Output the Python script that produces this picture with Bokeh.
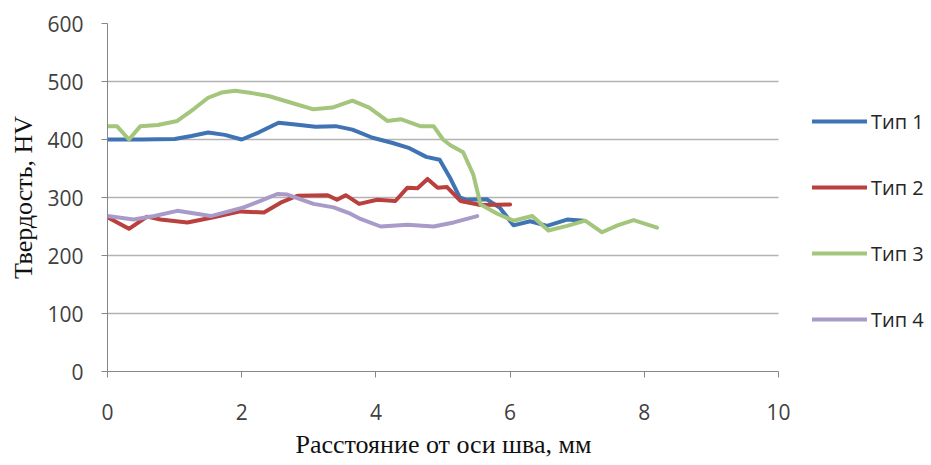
from bokeh.plotting import figure
from bokeh.models import Legend, LegendItem, FixedTicker, Title
from bokeh.embed import file_html
from bokeh.resources import INLINE

# ---- data ----
x1 = [0, 0.5, 1.0, 1.25, 1.5, 1.75, 2.0, 2.25, 2.55, 2.8, 3.1, 3.4, 3.65, 3.95, 4.25, 4.5, 4.75, 4.95, 5.1, 5.25, 5.35, 5.65, 5.85, 6.05, 6.3, 6.55, 6.85, 7.1]
y1 = [400, 400, 401, 406, 412, 408, 400, 412, 429, 426, 422, 423, 417, 403, 394, 385, 370, 365, 335, 300, 296, 297, 282, 252, 259, 251, 262, 260]

x2 = [0, 0.32, 0.59, 0.79, 1.19, 1.58, 1.98, 2.33, 2.58, 2.83, 3.28, 3.42, 3.55, 3.75, 4.02, 4.29, 4.47, 4.62, 4.77, 4.92, 5.06, 5.26, 5.56, 6.0]
y2 = [266, 246, 267, 262, 257, 266, 276, 274, 291, 303, 304, 296, 304, 289, 296, 294, 317, 316, 332, 317, 318, 294, 287, 288]

x3 = [0, 0.14, 0.32, 0.49, 0.75, 1.04, 1.29, 1.5, 1.7, 1.9, 2.15, 2.4, 2.75, 3.07, 3.35, 3.65, 3.9, 4.17, 4.37, 4.66, 4.86, 5.0, 5.11, 5.3, 5.45, 5.56, 5.81, 6.05, 6.33, 6.57, 6.85, 7.12, 7.37, 7.6, 7.84, 8.19]
y3 = [423, 423, 400, 423, 425, 432, 453, 472, 481, 484, 480, 475, 463, 452, 455, 467, 455, 432, 435, 423, 423, 400, 390, 378, 340, 288, 272, 260, 268, 243, 251, 260, 240, 252, 261, 248]

x4 = [0, 0.39, 0.7, 1.04, 1.54, 2.03, 2.3, 2.53, 2.68, 3.07, 3.37, 3.62, 3.77, 4.07, 4.47, 4.86, 5.16, 5.51]
y4 = [268, 262, 268, 277, 268, 283, 295, 306, 305, 289, 283, 272, 263, 250, 253, 250, 257, 268]

names = ["Тип 1", "Тип 2", "Тип 3", "Тип 4"]
colors = ["#3F73B3", "#B9403C", "#A4C57C", "#A89BC9"]
x_ticks = [0, 2, 4, 6, 8, 10]
y_ticks = [0, 100, 200, 300, 400, 500, 600]
x_min, x_max = 0, 10
x_title = "Расстояние от оси шва, мм"
y_title = "Твердость, HV"

# the frame extends to the right of x=10 so that the legend can sit inside it;
# axis line and grid lines are bounded to [0, 10]
p = figure(width=931, height=465, x_range=(0, 12.28), y_range=(0, 600),
           output_backend="svg", toolbar_location=None,
           min_border_left=107, min_border_right=0, min_border_top=23, min_border_bottom=94)
p.outline_line_color = None
p.background_fill_color = "white"

renderers = []
for xs, ys, c in zip([x1, x2, x3, x4], [y1, y2, y3, y4], colors):
    r = p.line(xs, ys, line_color=c, line_width=4, line_join="round", line_cap="round")
    renderers.append(r)

# axes
p.xaxis.ticker = FixedTicker(ticks=x_ticks)
p.yaxis.ticker = FixedTicker(ticks=y_ticks)
p.xaxis.bounds = (x_min, x_max)
for ax in (p.xaxis, p.yaxis):
    ax.axis_line_color = "#868686"
    ax.major_tick_line_color = "#868686"
    ax.major_tick_in = 0
    ax.major_tick_out = 6
    ax.minor_tick_line_color = None
    ax.major_label_text_font = "Open Sans"
    ax.major_label_text_font_size = "21px"
    ax.major_label_text_color = "#404040"
    ax.axis_label_text_font = "Liberation Serif"
    ax.axis_label_text_font_size = "26px"
    ax.axis_label_text_font_style = "normal"
    ax.axis_label_text_color = "#111111"

p.yaxis.axis_label = y_title
p.xaxis.major_label_standoff = 26
p.yaxis.major_label_standoff = 18
p.yaxis.axis_label_standoff = 6

# x-axis title centred under the [0, 10] part of the axis
xt = Title(text=x_title, align="left", offset=188, standoff=11,
           text_font="Liberation Serif", text_font_size="26px",
           text_font_style="normal", text_color="#111111")
p.add_layout(xt, "below")

p.xgrid.grid_line_color = None
p.ygrid.grid_line_color = "#B3B3B3"
p.ygrid.grid_line_width = 1.5
p.ygrid.cross_bounds = (x_min, x_max)

legend = Legend(items=[LegendItem(label=n, renderers=[r]) for n, r in zip(names, renderers)],
                location=(705, 37))
legend.glyph_width = 55
legend.glyph_height = 30
legend.label_height = 30
legend.spacing = 36
legend.padding = 0
legend.margin = 0
legend.label_standoff = 4
legend.border_line_color = None
legend.background_fill_alpha = 0
legend.label_text_font = "Open Sans"
legend.label_text_font_size = "20px"
legend.label_text_color = "#262626"
p.add_layout(legend)

open("out.html", "w").write(file_html(p, INLINE))
